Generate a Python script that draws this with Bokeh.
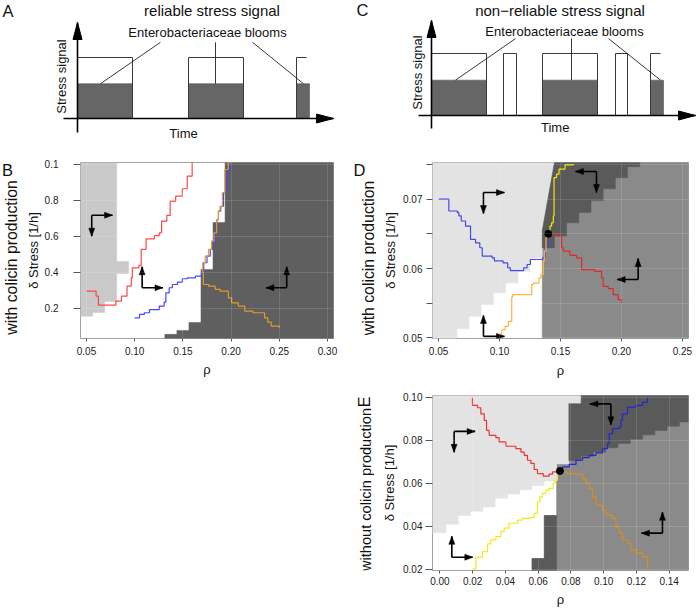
import math
from bokeh.plotting import figure
from bokeh.layouts import row, column
from bokeh.models import Range1d, FixedTicker, PrintfTickFormatter, Spacer
from bokeh.core.properties import value
from bokeh.embed import file_html
from bokeh.resources import INLINE

FONT = "Liberation Sans"


def fs(px):
    return f"{px:.1f}px"


# ------------------------------------------------------------------ data
# schematic panels A / C (time in arbitrary units, signal level 1)
bloom_start = [0.0, 11.1, 21.9]
bloom_end = [5.5, 16.6, 23.2]
bloom_level = 0.57
signal_level = 1.0
signalA_start = [0.0, 11.1, 21.9]
signalA_end = [5.5, 16.6, 22.9]
signalC_start = [0.0, 7.2, 11.1, 18.4, 21.9]
signalC_end = [5.5, 8.5, 16.6, 19.6, 22.9]

# panel B
B_xlim = (0.04375, 0.30625)
B_ylim = (0.033, 1.011)
B_xticks = [0.05, 0.10, 0.15, 0.20, 0.25, 0.30]
B_yticks = [0.2, 0.4, 0.6, 0.8, 1.0]
B_light_rho = [0.04375, 0.08125, 0.08125, 0.09375, 0.09375, 0.08125, 0.08125, 0.06875, 0.06875, 0.05625, 0.05625, 0.04375]
B_light_del = [1.011, 1.011, 0.461, 0.461, 0.394, 0.394, 0.239, 0.239, 0.178, 0.178, 0.156, 0.156]
B_dark_rho = [0.19375, 0.30625, 0.30625, 0.13125, 0.13125, 0.14375, 0.14375, 0.15625, 0.15625, 0.16875, 0.16875, 0.18125, 0.18125, 0.19375]
B_dark_del = [1.011, 1.011, 0.033, 0.033, 0.056, 0.056, 0.078, 0.078, 0.122, 0.122, 0.417, 0.417, 0.678, 0.678]
B_red_rho = [0.05, 0.0572, 0.0599, 0.0623, 0.0777, 0.0804, 0.0862, 0.092, 0.0964, 0.0975, 0.1043, 0.1067, 0.1118, 0.1204, 0.1255, 0.1279, 0.1333, 0.1368, 0.1425, 0.1494, 0.1545, 0.1596]
B_red_del = [0.296, 0.296, 0.268, 0.218, 0.218, 0.241, 0.268, 0.324, 0.37, 0.426, 0.439, 0.528, 0.587, 0.605, 0.62, 0.685, 0.717, 0.796, 0.824, 0.865, 0.935, 1.01]
B_blue_rho = [0.0999, 0.105, 0.110, 0.1153, 0.1255, 0.1306, 0.1323, 0.1358, 0.1391, 0.1443, 0.1494, 0.1545, 0.163, 0.1692, 0.1716, 0.175, 0.1784, 0.1808, 0.1835, 0.1852, 0.1869, 0.1893, 0.1921, 0.1955, 0.199]
B_blue_del = [0.148, 0.167, 0.176, 0.194, 0.213, 0.235, 0.287, 0.315, 0.333, 0.346, 0.365, 0.37, 0.38, 0.398, 0.454, 0.491, 0.528, 0.574, 0.62, 0.694, 0.741, 0.768, 0.843, 0.972, 1.01]
B_orange_rho = [0.2006, 0.197, 0.1935, 0.191, 0.1885, 0.1868, 0.185, 0.1822, 0.1798, 0.1765, 0.1731, 0.1706, 0.1712, 0.1767, 0.1835, 0.1886, 0.1971, 0.2006, 0.2075, 0.2142, 0.2228, 0.2347, 0.238, 0.2416, 0.25]
B_orange_del = [1.01, 0.972, 0.843, 0.768, 0.741, 0.694, 0.62, 0.574, 0.528, 0.491, 0.454, 0.398, 0.333, 0.324, 0.306, 0.296, 0.259, 0.231, 0.213, 0.185, 0.176, 0.148, 0.124, 0.102, 0.093]

# panel D
D_xlim = (0.045, 0.255)
D_ylim = (0.0499, 0.0753)
D_xticks = [0.05, 0.10, 0.15, 0.20, 0.25]
D_yticks = [0.05, 0.06, 0.07]
D_yminor = [0.055, 0.065, 0.075]
D_light_rho = [0.045, 0.145, 0.145, 0.135, 0.135, 0.125, 0.125, 0.115, 0.115, 0.105, 0.105, 0.095, 0.095, 0.085, 0.085, 0.075, 0.075, 0.065, 0.065, 0.045]
D_light_del = [0.0753, 0.0753, 0.0655, 0.0655, 0.0615, 0.0615, 0.0596, 0.0596, 0.0579, 0.0579, 0.0565, 0.0565, 0.0548, 0.0548, 0.0531, 0.0531, 0.0513, 0.0513, 0.0499, 0.0499]
D_mid_rho = [0.135, 0.255, 0.255, 0.145, 0.145, 0.135]
D_mid_del = [0.0499, 0.0499, 0.0753, 0.0753, 0.0655, 0.0655]
D_dark_rho = [0.145, 0.215, 0.215, 0.205, 0.205, 0.195, 0.195, 0.185, 0.185, 0.175, 0.175, 0.165, 0.165, 0.155, 0.155, 0.145, 0.145, 0.135, 0.135]
D_dark_del = [0.0753, 0.0753, 0.0747, 0.0747, 0.0731, 0.0731, 0.0715, 0.0715, 0.0698, 0.0698, 0.0681, 0.0681, 0.0666, 0.0666, 0.0647, 0.0647, 0.0630, 0.0630, 0.0655]
D_blue_rho = [0.05, 0.0584, 0.0653, 0.0666, 0.0686, 0.0721, 0.0762, 0.0803, 0.0838, 0.0858, 0.0939, 0.0958, 0.1029, 0.1067, 0.1089, 0.1144, 0.1198, 0.1226, 0.1253, 0.1335, 0.1354, 0.1373, 0.14]
D_blue_del = [0.07, 0.0683, 0.0681, 0.0676, 0.06686, 0.06613, 0.0642, 0.0637, 0.0630, 0.0618, 0.06154, 0.0611, 0.06081, 0.0601, 0.0597, 0.0597, 0.0601, 0.06058, 0.0613, 0.0613, 0.0616, 0.063, 0.065]
D_red_rho = [0.14, 0.146, 0.1509, 0.1523, 0.1577, 0.1632, 0.1673, 0.1782, 0.1837, 0.185, 0.1891, 0.1932, 0.1973, 0.20]
D_red_del = [0.065, 0.0647, 0.063, 0.0625, 0.0619, 0.06154, 0.05985, 0.0596, 0.05864, 0.05743, 0.0571, 0.05623, 0.0555, 0.0550]
D_orange_rho = [0.14, 0.1394, 0.1381, 0.1367, 0.1359, 0.134, 0.1324, 0.1277, 0.1264, 0.1108, 0.11, 0.1073, 0.1046, 0.1018, 0.10]
D_orange_del = [0.065, 0.06454, 0.0625, 0.0611, 0.05913, 0.05864, 0.0579, 0.05768, 0.05623, 0.0559, 0.05236, 0.05165, 0.05116, 0.05052, 0.0503]
D_yellow_rho = [0.14, 0.1414, 0.1427, 0.1441, 0.1447, 0.1468, 0.1488, 0.1537, 0.1605]
D_yellow_del = [0.065, 0.06613, 0.0666, 0.06758, 0.07313, 0.07362, 0.07435, 0.07497, 0.07507]
D_point = (0.14, 0.065)

# panel E
E_xlim = (-0.0045, 0.1518)
E_ylim = (0.01944, 0.1008)
E_xticks = [0.00, 0.02, 0.04, 0.06, 0.08, 0.10, 0.12, 0.14]
E_yticks = [0.02, 0.04, 0.06, 0.08, 0.10]
E_light_rho = [-0.0045, 0.08625, 0.08625, 0.07875, 0.07875, 0.07125, 0.07125, 0.06375, 0.06375, 0.05625, 0.05625, 0.04875, 0.04875, 0.04125, 0.04125, 0.03375, 0.03375, 0.02625, 0.02625, 0.01875, 0.01875, 0.01125, 0.01125, 0.00375, 0.00375, -0.0045]
E_light_del = [0.1008, 0.1008, 0.097, 0.097, 0.069, 0.069, 0.061, 0.061, 0.059, 0.059, 0.057, 0.057, 0.055, 0.055, 0.053, 0.053, 0.049, 0.049, 0.047, 0.047, 0.045, 0.045, 0.041, 0.041, 0.037, 0.037]
E_mid_rho = [0.08625, 0.1518, 0.1518, 0.05625, 0.05625, 0.06375, 0.06375, 0.07125, 0.07125, 0.07875, 0.07875, 0.08625]
E_mid_del = [0.1008, 0.1008, 0.01944, 0.01944, 0.025, 0.025, 0.045, 0.045, 0.069, 0.069, 0.097, 0.097]
E_dark_rho = [0.08625, 0.1518, 0.1518, 0.14625, 0.14625, 0.13875, 0.13875, 0.13125, 0.13125, 0.12375, 0.12375, 0.11625, 0.11625, 0.10875, 0.10875, 0.10125, 0.10125, 0.09375, 0.09375, 0.08625, 0.08625, 0.07875, 0.07875, 0.08625]
E_dark_del = [0.1008, 0.1008, 0.0885, 0.0885, 0.0865, 0.0865, 0.0845, 0.0845, 0.0825, 0.0825, 0.0805, 0.0805, 0.0785, 0.0785, 0.0765, 0.0765, 0.0745, 0.0745, 0.0725, 0.0725, 0.0705, 0.0705, 0.097, 0.097]
E_dark2_rho = [0.05625, 0.07125, 0.07125, 0.06375, 0.06375, 0.05625]
E_dark2_del = [0.01944, 0.01944, 0.045, 0.045, 0.025, 0.025]
E_red_rho = [0.0199, 0.0199, 0.023, 0.025, 0.0271, 0.0285, 0.0301, 0.0342, 0.0362, 0.0403, 0.0464, 0.0495, 0.0515, 0.0535, 0.0556, 0.0576, 0.0596, 0.0631, 0.0667, 0.0688, 0.0733]
E_red_del = [0.0997, 0.0962, 0.0951, 0.0923, 0.0892, 0.0846, 0.0823, 0.0812, 0.0792, 0.0772, 0.0761, 0.0745, 0.073, 0.0707, 0.0692, 0.0664, 0.0645, 0.0633, 0.0642, 0.0653, 0.0657]
E_yellow_rho = [0.0199, 0.022, 0.026, 0.0291, 0.0311, 0.0342, 0.0373, 0.0393, 0.0423, 0.0474, 0.0504, 0.0545, 0.0576, 0.0596, 0.0611, 0.0627, 0.0647, 0.0667, 0.0692, 0.0704, 0.0718, 0.0733]
E_yellow_del = [0.0201, 0.0257, 0.0282, 0.0318, 0.0337, 0.0352, 0.0375, 0.0391, 0.0414, 0.0429, 0.0437, 0.044, 0.046, 0.0514, 0.0537, 0.0553, 0.0568, 0.0576, 0.0599, 0.0614, 0.0645, 0.0657]
E_blue_rho = [0.0733, 0.0749, 0.079, 0.0831, 0.0871, 0.0912, 0.0953, 0.0993, 0.1024, 0.1034, 0.1054, 0.1095, 0.1105, 0.1115, 0.1146, 0.1197, 0.1237, 0.1268]
E_blue_del = [0.0657, 0.0676, 0.0688, 0.0707, 0.0719, 0.073, 0.0741, 0.0761, 0.0784, 0.0831, 0.0854, 0.0861, 0.0892, 0.0923, 0.0954, 0.0962, 0.0977, 0.0997]
E_orange_rho = [0.0733, 0.0749, 0.0779, 0.0831, 0.0871, 0.0891, 0.0912, 0.0932, 0.0953, 0.0993, 0.1014, 0.1054, 0.1075, 0.1095, 0.1115, 0.1146, 0.1166, 0.1197, 0.1237, 0.1268]
E_orange_del = [0.0657, 0.0653, 0.0645, 0.0642, 0.0622, 0.0599, 0.0576, 0.0537, 0.0499, 0.0475, 0.0452, 0.0437, 0.0398, 0.0368, 0.0337, 0.0321, 0.029, 0.0275, 0.0259, 0.0205]
E_point = (0.0733, 0.0657)

# direction arrows: (rho, delta, horizontal dir, vertical dir)
B_arrows = [(0.0554, 0.718, 1, -1), (0.1077, 0.315, 1, 1), (0.2577, 0.315, -1, 1)]
D_arrows = [(0.0868, 0.07096, 1, -1), (0.1795, 0.0740, -1, -1), (0.2137, 0.05841, -1, 1), (0.0868, 0.0502, 1, 1)]
E_arrows = [(0.0087, 0.0841, 1, -1), (0.1044, 0.0969, -1, -1), (0.0073, 0.0256, 1, 1), (0.1359, 0.0368, -1, 1)]

LIGHT_B = "#c9c9c9"
LIGHT = "#e3e3e3"
MID = "#8a8a8a"
DARK_B = "#5f5f5f"
DARK = "#5a5a5a"


# ------------------------------------------------------------------ helpers
def stairs(xs, ys):
    vx, vy = [xs[0]], [ys[0]]
    for i in range(1, len(xs)):
        vx += [xs[i], xs[i]]
        vy += [ys[i - 1], ys[i]]
    return vx, vy


def tri(tx, ty, dx, dy, kx, ky, length, half):
    bx, by = tx - dx * length * kx, ty - dy * length * ky
    px, py = -dy, dx
    return ([tx, bx + px * half * kx, bx - px * half * kx],
            [ty, by + py * half * ky, by - py * half * ky])


def data_plot(w, h, borders, xlim, ylim, xfmt, yfmt):
    l, r, t, b = borders
    p = figure(width=w, height=h, x_range=Range1d(*xlim), y_range=Range1d(*ylim),
               output_backend="svg", toolbar_location=None,
               min_border_left=l, min_border_right=r,
               min_border_top=t, min_border_bottom=b)
    p.outline_line_color = "#a0a0a0"
    p.background_fill_color = "white"
    p.border_fill_color = "white"
    for ax in (p.xaxis[0], p.yaxis[0]):
        ax.axis_line_color = None
        ax.major_tick_line_color = "#555555"
        ax.major_tick_in = 0
        ax.minor_tick_line_color = None
        ax.major_label_text_font = FONT
        ax.major_label_text_font_size = fs(10)
        ax.major_label_text_color = "#222222"
        ax.axis_label_text_font = FONT
        ax.axis_label_text_font_style = "normal"
        ax.axis_label_text_font_size = fs(13)
        ax.axis_label_text_color = "#111111"
    p.xaxis.formatter = PrintfTickFormatter(format=xfmt)
    p.yaxis.formatter = PrintfTickFormatter(format=yfmt)
    p.xaxis.axis_label = "ρ"
    p.yaxis.axis_label = "δ Stress [1/h]"
    p.grid.grid_line_color = "white"
    p.grid.grid_line_alpha = 0.13
    p.grid.level = "overlay"
    fw, fh = w - l - r, h - t - b
    info = dict(kx=(xlim[1] - xlim[0]) / fw, ky=(ylim[1] - ylim[0]) / fh)
    return p, info


def label_fig(x0, y0, w, h, top, bottom, texts):
    """Narrow figure carrying the panel letter and the row caption.
    Its frame is aligned with the neighbouring plot's frame (same top/bottom borders)."""
    p = figure(width=w, height=h, x_range=Range1d(x0, x0 + w),
               y_range=Range1d(y0 + h - bottom, y0 + top),
               x_axis_location=None, y_axis_location=None,
               min_border_left=0, min_border_right=0,
               min_border_top=top, min_border_bottom=bottom,
               output_backend="svg", toolbar_location=None)
    p.outline_line_color = None
    p.grid.visible = False
    for (tx, ty, txt, size, ang) in texts:
        p.text(x=[tx], y=[ty], text=[txt], angle=ang, text_font=value(FONT),
               text_font_size=value(fs(size)), text_align="center",
               text_baseline="middle", text_color="#111111")
    return p


def region(p, rho, dl, color):
    p.patch(rho, dl, fill_color=color, line_color=color, line_width=0.5)


def curve(p, rho, dl, color, width=1.2):
    vx, vy = stairs(rho, dl)
    p.line(vx, vy, line_color=color, line_width=width)


def elbow_arrows(p, info, arrows):
    kx, ky = info["kx"], info["ky"]
    L = 21
    xs0, ys0, xs1, ys1, hx, hy = [], [], [], [], [], []
    for cx, cy, hd, vd in arrows:
        ex, ey = cx + hd * L * kx, cy + vd * L * ky
        xs0 += [cx, cx]; ys0 += [cy, cy]; xs1 += [ex, cx]; ys1 += [cy, ey]
        a, b = tri(ex, cy, hd, 0, kx, ky, 8, 3.0)
        hx.append(a); hy.append(b)
        a, b = tri(cx, ey, 0, vd, kx, ky, 8, 3.0)
        hx.append(a); hy.append(b)
    p.segment(xs0, ys0, xs1, ys1, line_color="black", line_width=1.6)
    p.patches(hx, hy, fill_color="black", line_color="black", line_width=0.5)


# ------------------------------------------------------------------ schematic
def schematic(x0, w, h, origin, unit, sig_start, sig_end, axis_geom, pointers, texts):
    ox, oy = origin
    ux, uy = unit
    p = figure(width=w, height=h,
               x_range=Range1d((x0 - ox) / ux, (x0 + w - ox) / ux),
               y_range=Range1d((oy - h) / uy, oy / uy),
               x_axis_location=None, y_axis_location=None, min_border=0,
               output_backend="svg", toolbar_location=None)
    p.outline_line_color = None
    p.grid.visible = False
    p.background_fill_color = "white"
    kx, ky = 1.0 / ux, 1.0 / uy
    p.quad(left=bloom_start, right=bloom_end, bottom=0, top=bloom_level,
           fill_color="#666666", line_color="#555555", line_width=0.6)
    xs, ys = [], []
    for i, (s0, s1) in enumerate(zip(sig_start, sig_end)):
        if i == len(sig_start) - 1:
            xs.append([s0, s0, s1]); ys.append([0, signal_level, signal_level])
        else:
            xs.append([s0, s0, s1, s1]); ys.append([0, signal_level, signal_level, 0])
    p.multi_line(xs, ys, line_color="#3a3a3a", line_width=1.0)
    p.segment(*zip(*pointers), line_color="#222222", line_width=0.9)
    ybot, ytip, xstart, xtip = axis_geom
    p.segment([0, xstart], [ybot, 0], [0, xtip], [ytip, 0], line_color="black", line_width=1.6)
    ha, hb = tri(0, ytip, 0, 1, kx, ky, 17, 4.5)
    hc, hd = tri(xtip, 0, 1, 0, kx, ky, 17, 4.5)
    p.patches([ha, hc], [hb, hd], fill_color="black", line_color="black")
    for (tx, ty, txt, size, ang) in texts:
        p.text(x=[(tx - ox) / ux], y=[(oy - ty) / uy], text=[txt], angle=ang,
               text_font=value(FONT), text_font_size=value(fs(size)),
               text_align="center", text_baseline="middle", text_color="#111111")
    return p


pA = schematic(0, 348, 150, (77, 118), (10, 61), signalA_start, signalA_end,
               (-0.23, 1.574, -1.4, 25.6),
               [(2.3, 0.57, 8.3, 1.25), (13.8, 0.57, 13.8, 1.25), (22.6, 0.57, 17.5, 1.25)],
               [(7.5, 10, "A", 16.5, 0), (211.5, 9.5, "reliable stress signal", 15, 0),
                (207, 32, "Enterobacteriaceae blooms", 13, 0), (183, 133, "Time", 13, 0),
                (60.5, 76, "Stress signal", 13, math.pi / 2)])
pC = schematic(348, 348, 150, (431, 115), (10, 62), signalC_start, signalC_end,
               (-0.21, 1.532, -1.3, 26.4),
               [(2.4, 0.57, 8.4, 1.24), (14.0, 0.57, 14.0, 1.24), (22.9, 0.57, 17.7, 1.24)],
               [(362, 9.5, "C", 16.5, 0), (559.5, 9.5, "non\u2212reliable stress signal", 15, 0),
                (564, 31, "Enterobacteriaceae blooms", 13, 0), (554.7, 127, "Time", 13, 0),
                (416.5, 72, "Stress signal", 13, math.pi / 2)])

# ------------------------------------------------------------------ panel B
pB, iB = data_plot(326, 230, (55, 15, 12, 42), B_xlim, B_ylim, "%.2f", "%.1f")
pB.xaxis.ticker = FixedTicker(ticks=B_xticks)
pB.yaxis.ticker = FixedTicker(ticks=B_yticks)
pB.xgrid.ticker = FixedTicker(ticks=B_xticks)
pB.ygrid.ticker = FixedTicker(ticks=B_yticks)
pB.yaxis.major_label_overrides = {1.0: "0.1"}
pB.yaxis.major_tick_out = 7
pB.yaxis.major_label_standoff = 15
pB.yaxis.axis_label_standoff = 1
pB.xaxis.major_tick_out = 3
pB.xaxis.major_label_standoff = 5
pB.xaxis.axis_label_standoff = 4
region(pB, B_light_rho, B_light_del, LIGHT_B)
region(pB, B_dark_rho, B_dark_del, DARK_B)
curve(pB, B_red_rho, B_red_del, "#ff4646")
curve(pB, B_blue_rho, B_blue_del, "#4646ff")
curve(pB, B_orange_rho, B_orange_del, "#e29a2a")
elbow_arrows(pB, iB, B_arrows)
labB = label_fig(0, 150, 22, 230, 12, 42,
                 [(7, 169, "B", 16.5, 0),
                  (10.5, 257, "with colicin production", 15.8, math.pi / 2)])

# ------------------------------------------------------------------ panel D
pD, iD = data_plot(320, 230, (56, 8, 12, 42), D_xlim, D_ylim, "%.2f", "%.2f")
pD.xaxis.ticker = FixedTicker(ticks=D_xticks)
pD.yaxis.ticker = FixedTicker(ticks=D_yticks, minor_ticks=D_yminor)
pD.xgrid.ticker = FixedTicker(ticks=D_xticks)
pD.ygrid.ticker = FixedTicker(ticks=D_yticks + D_yminor)
pD.yaxis.minor_tick_line_color = "#555555"
pD.yaxis.minor_tick_out = 6
pD.yaxis.minor_tick_in = 0
pD.yaxis.major_tick_out = 6
pD.yaxis.major_label_standoff = 4
pD.yaxis.axis_label_standoff = 2
pD.xaxis.major_tick_out = 3
pD.xaxis.major_label_standoff = 5
pD.xaxis.axis_label_standoff = 5
region(pD, D_mid_rho, D_mid_del, MID)
region(pD, D_light_rho, D_light_del, LIGHT)
region(pD, D_dark_rho, D_dark_del, DARK)
curve(pD, D_blue_rho, D_blue_del, "#4848e6")
curve(pD, D_red_rho, D_red_del, "#e02a2a")
curve(pD, D_orange_rho, D_orange_del, "#ffb23c")
curve(pD, D_yellow_rho, D_yellow_del, "#f2e400")
pD.scatter([D_point[0]], [D_point[1]], size=7, color="black")
elbow_arrows(pD, iD, D_arrows)
labD = label_fig(348, 150, 28, 230, 12, 42,
                 [(359, 169, "D", 16.5, 0),
                  (368, 257.5, "with colicin production", 15.8, math.pi / 2)])

# ------------------------------------------------------------------ panel E
pE, iE = data_plot(320, 229, (56, 8, 15, 38), E_xlim, E_ylim, "%.2f", "%.2f")
pE.xaxis.ticker = FixedTicker(ticks=E_xticks)
pE.yaxis.ticker = FixedTicker(ticks=E_yticks)
pE.xgrid.ticker = FixedTicker(ticks=E_xticks)
pE.ygrid.ticker = FixedTicker(ticks=E_yticks)
pE.yaxis.major_tick_out = 7
pE.yaxis.major_label_standoff = 3
pE.yaxis.axis_label_standoff = 3
pE.xaxis.major_tick_out = 3
pE.xaxis.major_label_standoff = 3
pE.xaxis.axis_label_standoff = 4
region(pE, E_mid_rho, E_mid_del, MID)
region(pE, E_light_rho, E_light_del, LIGHT)
region(pE, E_dark_rho, E_dark_del, DARK)
region(pE, E_dark2_rho, E_dark2_del, DARK)
curve(pE, E_red_rho, E_red_del, "#ee3333")
curve(pE, E_yellow_rho, E_yellow_del, "#f2ea1c")
curve(pE, E_blue_rho, E_blue_del, "#2626d0")
curve(pE, E_orange_rho, E_orange_del, "#dc8c1c")
pE.scatter([E_point[0]], [E_point[1]], size=7, color="black")
elbow_arrows(pE, iE, E_arrows)
labE = label_fig(348, 380, 28, 229, 15, 38,
                 [(364, 401.5, "E", 16, math.pi / 2),
                  (365.5, 489.5, "without colicin production", 14.6, math.pi / 2)])

layout = column(row(pA, pC),
                row(labB, pB, labD, pD),
                row(Spacer(width=348, height=229), labE, pE))
open("out.html", "w").write(file_html(layout, INLINE))
